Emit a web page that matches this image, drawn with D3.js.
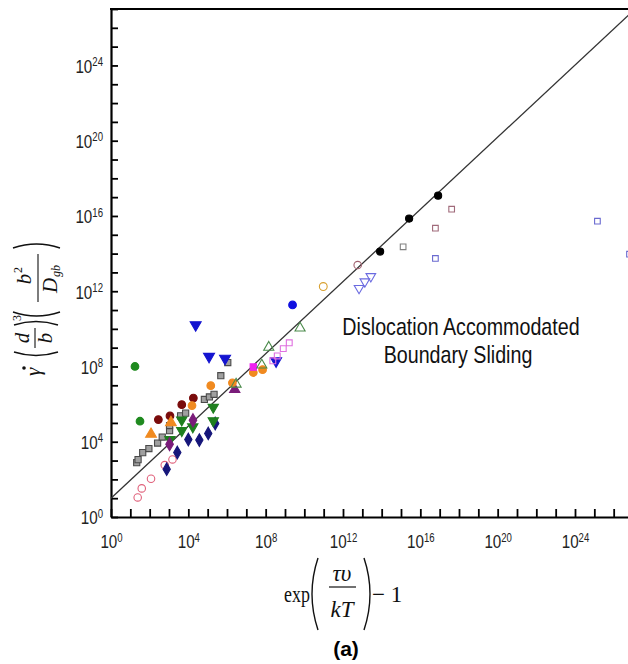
<!DOCTYPE html>
<html>
<head>
<meta charset="utf-8">
<script src="https://cdn.jsdelivr.net/npm/d3@7"></script>
<style>
  body { margin: 0; background: #fff; }
</style>
</head>
<body>
<svg></svg>
<script>
var w = 628;
var h = 664;

// all values are log10 of (exp(tau*v/kT)-1, normalised strain rate)
var blueTriDown = [[4.38, 10.21], [5.07, 8.53], [5.9, 8.43], [8.54, 8.29]];
var greenCircle = [[1.24, 8.0], [1.5, 5.09]];
var maroonCircle = [[2.45, 5.18], [3.05, 5.37], [3.66, 5.97], [4.26, 6.32]];
var orangeTri = [[2.07, 4.4], [3.1, 5.02]];
var orangeCircle = [[4.19, 5.92], [5.16, 6.98], [6.28, 7.13], [7.36, 7.68], [7.84, 7.83]];
var graySquare = [[1.33, 2.89], [1.4, 3.05], [1.64, 3.42], [1.96, 3.64], [2.41, 3.93],
  [2.65, 4.25], [3.03, 4.59], [3.03, 4.86], [3.6, 5.38], [3.86, 5.52], [4.83, 6.25],
  [5.09, 6.38], [5.33, 6.52], [5.68, 7.51], [6.04, 8.21]];
var greenTriDown = [[3.05, 4.12], [3.66, 4.59], [3.66, 5.16], [4.23, 4.79], [5.29, 5.12], [5.29, 5.83]];
var purpleDiamond = [[3.03, 3.87], [4.24, 5.14]];
var purpleTri = [[6.4, 6.78]];
var navyDiamond = [[2.88, 2.54], [3.43, 3.43], [4.0, 4.12], [4.57, 4.09], [5.03, 4.44], [5.39, 4.97]];
var redOpenCircle = [[1.38, 1.04], [1.59, 1.52], [2.07, 2.03], [2.78, 2.76], [3.18, 3.06]];
var magentaSquare = [[7.36, 7.97]];
var magentaOpenSquare = [[8.37, 8.3], [8.6, 8.56], [8.91, 8.95], [9.22, 9.26]];
var greenOpenTri = [[6.47, 7.06], [7.8, 8.07], [8.16, 9.02], [9.78, 10.04]];
var blueCircle = [[9.39, 11.27]];
var orangeOpenCircle = [[10.98, 12.25]];
var mauveOpenCircle = [[12.76, 13.39]];
var blueOpenTriDown = [[12.83, 12.16], [13.13, 12.51], [13.44, 12.79]];
var blackCircle = [[13.92, 14.11], [15.42, 15.86], [16.92, 17.08]];
var grayOpenSquare = [[15.11, 14.36]];
var mauveOpenSquare = [[16.78, 15.35], [17.62, 16.36]];
var blueOpenSquare = [[16.78, 13.74], [25.16, 15.72], [26.82, 13.97]];

var fitLine = [[0, 1.0], [27, 26.9]];
var decades = d3.range(0, 28);
var labelled = [0, 4, 8, 12, 16, 20, 24];

var svg = d3.select("svg").attr("width", w).attr("height", h);

var x = d3.scaleLog().domain([1, 1e27]).range([111, 633]);
var y = d3.scaleLog().domain([1, 1e27]).range([517, 9]);
var px = (d) => x(Math.pow(10, d[0]));
var py = (d) => y(Math.pow(10, d[1]));

var sans = "'Liberation Sans', Arial, sans-serif";
var serif = "'Liberation Serif', 'Times New Roman', serif";

// frame top
svg.append("line")
  .attr("x1", 110).attr("x2", 633).attr("y1", 9).attr("y2", 9)
  .attr("stroke", "#000").attr("stroke-width", 2.2);

function supLabels(sel) {
  sel.selectAll(".tick text").each(function (d) {
    var e = Math.round(Math.log10(d));
    var t = d3.select(this).text(null);
    if (labelled.indexOf(e) < 0) return;
    t.append("tspan").text("10");
    t.append("tspan").attr("dy", "-0.55em").attr("font-size", "12px").text(e);
  });
  sel.selectAll(".tick text")
    .attr("font-family", sans).attr("font-size", "19px").attr("fill", "#222")
    .attr("transform", "scale(0.8,1)");
  sel.select(".domain").attr("stroke-width", 2.2);
  sel.selectAll(".tick line").attr("stroke-width", 1.8);
}

svg.append("g")
  .attr("transform", "translate(111,0)")
  .call(d3.axisLeft(y).tickValues(decades.map((e) => Math.pow(10, e)))
    .tickSize(-7).tickSizeOuter(0).tickPadding(10))
  .call(supLabels)
  .selectAll(".tick text").attr("dy", "0.36em");

svg.append("g")
  .attr("transform", "translate(0,517)")
  .call(d3.axisBottom(x).tickValues(decades.map((e) => Math.pow(10, e)))
    .tickSize(-8).tickSizeOuter(0).tickPadding(18))
  .call(supLabels);

// fit line
svg.append("path")
  .datum(fitLine)
  .attr("d", d3.line().x(px).y(py))
  .attr("fill", "none")
  .attr("stroke", "#333")
  .attr("stroke-width", 1.3);

var series = [
  { data: graySquare, type: d3.symbolSquare, size: 38, fill: "#a0a0a0", stroke: "#4a4a4a" },
  { data: redOpenCircle, type: d3.symbolCircle, size: 44, fill: "none", stroke: "#e0607a" },
  { data: navyDiamond, type: d3.symbolDiamond, size: 46, fill: "#16167a", stroke: "#16167a" },
  { data: greenTriDown, type: d3.symbolTriangle, size: 46, fill: "#1f7f1f", stroke: "#1f7f1f", down: true },
  { data: purpleDiamond, type: d3.symbolDiamond, size: 50, fill: "#7a1c7a", stroke: "#7a1c7a" },
  { data: purpleTri, type: d3.symbolTriangle, size: 46, fill: "#7a1c7a", stroke: "#7a1c7a" },
  { data: maroonCircle, type: d3.symbolCircle, size: 46, fill: "#7a0c0c", stroke: "#7a0c0c" },
  { data: orangeTri, type: d3.symbolTriangle, size: 50, fill: "#f08a20", stroke: "#f08a20" },
  { data: orangeCircle, type: d3.symbolCircle, size: 46, fill: "#f08a20", stroke: "#f08a20" },
  { data: greenCircle, type: d3.symbolCircle, size: 46, fill: "#1f8a1f", stroke: "#1f8a1f" },
  { data: blueTriDown, type: d3.symbolTriangle, size: 52, fill: "#1414d0", stroke: "#1414d0", down: true },
  { data: magentaSquare, type: d3.symbolSquare, size: 40, fill: "#f020f0", stroke: "#f020f0" },
  { data: magentaOpenSquare, type: d3.symbolSquare, size: 34, fill: "none", stroke: "#e070e0" },
  { data: greenOpenTri, type: d3.symbolTriangle, size: 44, fill: "none", stroke: "#4a8a4a" },
  { data: blueCircle, type: d3.symbolCircle, size: 46, fill: "#1010e0", stroke: "#1010e0" },
  { data: orangeOpenCircle, type: d3.symbolCircle, size: 48, fill: "none", stroke: "#d8a030" },
  { data: mauveOpenCircle, type: d3.symbolCircle, size: 44, fill: "none", stroke: "#a0606e" },
  { data: blueOpenTriDown, type: d3.symbolTriangle, size: 40, fill: "none", stroke: "#6a6ae0", down: true },
  { data: blackCircle, type: d3.symbolCircle, size: 40, fill: "#000", stroke: "#000" },
  { data: grayOpenSquare, type: d3.symbolSquare, size: 32, fill: "none", stroke: "#808080" },
  { data: mauveOpenSquare, type: d3.symbolSquare, size: 32, fill: "none", stroke: "#a06a7a" },
  { data: blueOpenSquare, type: d3.symbolSquare, size: 32, fill: "none", stroke: "#6a6ad0" }
];

series.forEach((s) => {
  svg.append("g")
    .selectAll("path")
    .data(s.data)
    .enter()
    .append("path")
    .attr("d", d3.symbol().type(s.type).size(s.size))
    .attr("transform", (d) => "translate(" + px(d) + "," + py(d) + ")" + (s.down ? " rotate(180)" : ""))
    .attr("fill", s.fill)
    .attr("stroke", s.stroke)
    .attr("stroke-width", 1.1);
});

// annotation
var note = svg.append("g").attr("font-family", sans).attr("font-size", "24px").attr("fill", "#111");
note.append("text").attr("transform", "translate(461,335) scale(0.82,1)")
  .attr("text-anchor", "middle").text("Dislocation Accommodated");
note.append("text").attr("transform", "translate(458,363) scale(0.82,1)")
  .attr("text-anchor", "middle").text("Boundary Sliding");

function paren(g, x0, y0, x1, y1, bulge) {
  // curved bracket from (x0,y0) to (x1,y1), bowing out by bulge
  var mx = (x0 + x1) / 2, my = (y0 + y1) / 2;
  var dx = x1 - x0, dy = y1 - y0, len = Math.sqrt(dx * dx + dy * dy);
  var cx = mx + (-dy / len) * bulge, cy = my + (dx / len) * bulge;
  g.append("path")
    .attr("d", "M" + x0 + "," + y0 + "Q" + cx + "," + cy + " " + x1 + "," + y1)
    .attr("fill", "none").attr("stroke", "#111").attr("stroke-width", 1.4);
}

// x axis title: exp(tau v / kT) - 1
var xt = svg.append("g").attr("font-family", serif).attr("font-size", "23px").attr("fill", "#111");
xt.append("text").attr("transform", "translate(284,602) scale(0.78,1)").text("exp");
paren(xt, 318, 558, 318, 630, 12);
xt.append("text").attr("x", 342).attr("y", 581).attr("text-anchor", "middle")
  .attr("font-style", "italic").text("τυ");
xt.append("line").attr("x1", 329).attr("x2", 356).attr("y1", 587).attr("y2", 587)
  .attr("stroke", "#111").attr("stroke-width", 1.2);
xt.append("text").attr("x", 342).attr("y", 617).attr("text-anchor", "middle")
  .attr("font-style", "italic").text("kT");
paren(xt, 364, 558, 364, 630, -12);
xt.append("text").attr("x", 372).attr("y", 602).text("\u2212 1");

svg.append("text").attr("x", 346).attr("y", 656).attr("text-anchor", "middle")
  .attr("font-family", sans).attr("font-weight", "bold").attr("font-size", "21px")
  .text("(a)");

// y axis title: gamma-dot (d/b)^3 (b^2/D_gb)
var yt = svg.append("g").attr("transform", "translate(37,310) rotate(-90)")
  .attr("font-family", serif).attr("font-size", "21px").attr("fill", "#111")
  .attr("font-style", "italic");
yt.append("text").attr("x", -66).attr("y", 3).text("γ");
yt.append("circle").attr("cx", -58).attr("cy", -13).attr("r", 1.8).attr("fill", "#111");
paren(yt, -42, -23, -42, 21, 7);
yt.append("text").attr("x", -28).attr("y", -8).attr("text-anchor", "middle").text("d");
yt.append("line").attr("x1", -38).attr("x2", -18).attr("y1", -2).attr("y2", -2)
  .attr("stroke", "#111").attr("stroke-width", 1.1);
yt.append("text").attr("x", -28).attr("y", 15).attr("text-anchor", "middle").text("b");
paren(yt, -15, -23, -15, 21, -7);
yt.append("text").attr("x", -11).attr("y", -16).attr("font-size", "12px")
  .attr("font-style", "normal").text("3");
paren(yt, -2, -24, -2, 23, 8);
yt.append("text").attr("x", 31).attr("y", -6).attr("text-anchor", "middle").text("b");
yt.append("text").attr("x", 37).attr("y", -15).attr("font-size", "12px")
  .attr("font-style", "normal").text("2");
yt.append("line").attr("x1", 8).attr("x2", 56).attr("y1", 1).attr("y2", 1)
  .attr("stroke", "#111").attr("stroke-width", 1.1);
yt.append("text").attr("x", 17).attr("y", 20).text("D");
yt.append("text").attr("x", 33).attr("y", 23).attr("font-size", "12px").text("gb");
paren(yt, 62, -24, 62, 23, -8);
</script>
</body>
</html>
